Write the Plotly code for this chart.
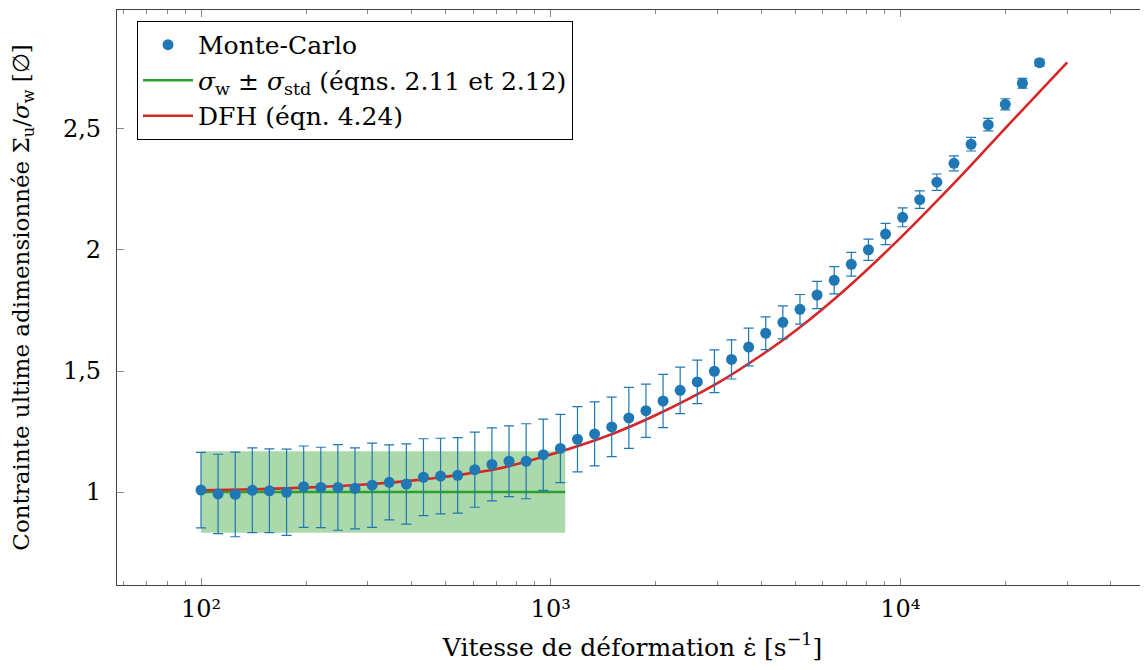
import plotly.graph_objects as go

# Monte-Carlo points (strain rate, normalised strength, std)
mc_rate = [100, 111.9, 125.3, 140.2, 156.9, 175.7, 196.6, 220.1, 246.3, 275.7,
           308.6, 345.4, 386.6, 432.7, 484.3, 542.1, 606.7, 679.1, 760.1, 850.8,
           952.3, 1065.9, 1193.0, 1335.3, 1494.6, 1672.9, 1872.4, 2095.8, 2345.7, 2625.6,
           2938.7, 3289.3, 3681.6, 4120.8, 4612.3, 5162.5, 5778.3, 6467.6, 7239.1, 8102.6,
           9069.2, 10149, 11360, 12715, 14232, 15929, 17830, 19956, 22337, 25000]
mc_sigma = [1.008, 0.992, 0.990, 1.007, 1.005, 0.999, 1.022, 1.019, 1.019, 1.015,
            1.028, 1.040, 1.033, 1.061, 1.066, 1.069, 1.092, 1.114, 1.127, 1.127,
            1.154, 1.180, 1.218, 1.240, 1.269, 1.306, 1.336, 1.376, 1.420, 1.455,
            1.499, 1.548, 1.599, 1.656, 1.701, 1.755, 1.814, 1.875, 1.941, 2.001,
            2.066, 2.135, 2.208, 2.280, 2.358, 2.437, 2.518, 2.602, 2.689, 2.774]
mc_std = [0.156, 0.164, 0.175, 0.175, 0.173, 0.178, 0.168, 0.166, 0.177, 0.167,
          0.174, 0.155, 0.166, 0.159, 0.156, 0.156, 0.155, 0.151, 0.146, 0.155,
          0.147, 0.141, 0.135, 0.132, 0.123, 0.126, 0.110, 0.110, 0.096, 0.090,
          0.088, 0.081, 0.078, 0.068, 0.068, 0.061, 0.056, 0.056, 0.049, 0.044,
          0.044, 0.039, 0.036, 0.034, 0.031, 0.028, 0.026, 0.023, 0.020, 0.014]

# Weibull mean +/- std band
weib_rate = [100, 1100]
sigma_w = 1.0
sigma_std = 0.168

# DFH model curve
dfh_rate = [100, 150, 200, 300, 400, 500, 700, 1000, 1500, 2000,
            3000, 4000, 5000, 7000, 10000, 15000, 20000, 30000]
dfh_sigma = [1.007, 1.012, 1.018, 1.032, 1.047, 1.063, 1.095, 1.155, 1.240, 1.318,
             1.450, 1.565, 1.665, 1.840, 2.050, 2.310, 2.505, 2.775]

y_ticks = [1, 1.5, 2, 2.5]
y_ticktext = ["1", "1,5", "2", "2,5"]
x_ticks = [100, 1000, 10000]
x_ticktext = ["10²", "10³", "10⁴"]

BLUE = "#1f77b4"
GREEN = "#2ca02c"
RED = "#d62728"
FONT = "DejaVu Serif"

fig = go.Figure()

# band
fig.add_trace(go.Scatter(x=weib_rate, y=[sigma_w - sigma_std] * 2, mode="lines",
                         line=dict(width=0), showlegend=False, hoverinfo="skip"))
fig.add_trace(go.Scatter(x=weib_rate, y=[sigma_w + sigma_std] * 2, mode="lines",
                         line=dict(width=0), fill="tonexty",
                         fillcolor="rgba(44,160,44,0.4)", showlegend=False, hoverinfo="skip"))

fig.add_trace(go.Scatter(x=weib_rate, y=[sigma_w] * 2, mode="lines",
                         line=dict(color=GREEN, width=2.6), legendrank=2,
                         name="<i>σ</i><sub>w</sub> ± <i>σ</i><sub>std</sub> (éqns. 2.11 et 2.12)"))
fig.add_trace(go.Scatter(x=dfh_rate, y=dfh_sigma, mode="lines",
                         line=dict(color=RED, width=2.6, shape="spline", smoothing=0.8), legendrank=3,
                         name="DFH (éqn. 4.24)"))
fig.add_trace(go.Scatter(x=mc_rate, y=mc_sigma, mode="markers",
                         marker=dict(color=BLUE, size=11),
                         error_y=dict(type="data", array=mc_std, color=BLUE, thickness=1.2, width=5),
                         legendrank=1, name="Monte-Carlo"))

axis_common = dict(showgrid=False, zeroline=False, showline=True, linecolor="#444",
                   linewidth=1.3, mirror="ticks", ticks="inside", tickcolor="#888",
                   automargin=False,
                   tickfont=dict(family=FONT, size=24, color="black"))

fig.update_xaxes(type="log", range=[1.7598, 4.7081], tickvals=x_ticks, ticktext=x_ticktext,
                 ticklen=7, ticklabelstandoff=2,
                 minor=dict(ticks="inside", ticklen=4, tickcolor="#888", dtick="D1", showgrid=False),
                 title=dict(text="Vitesse de déformation ε̇ [s<sup>−1</sup>]",
                            font=dict(family=FONT, size=25, color="black"), standoff=16),
                 **axis_common)
fig.update_yaxes(range=[0.6157, 2.9917], tickvals=y_ticks, ticktext=y_ticktext,
                 ticklen=7, ticklabelstandoff=10,
                 title=dict(text="Contrainte ultime adimensionnée Σ<sub>u</sub>/<i>σ</i><sub>w</sub> [∅]",
                            font=dict(family=FONT, size=23, color="black"), standoff=28),
                 **axis_common)

# page body has an 8px margin, so margins are shifted to land the plot where the reference has it
fig.update_layout(
    width=1148, height=654,
    margin=dict(l=109, r=8, t=2, b=77),
    plot_bgcolor="white", paper_bgcolor="white",
    font=dict(family=FONT, size=24, color="black"),
    legend=dict(x=0.0194, y=0.981, xanchor="left", yanchor="top", traceorder="normal",
                bgcolor="white", bordercolor="black", borderwidth=1, itemwidth=50,
                font=dict(family=FONT, size=25), tracegroupgap=0),
)

fig.write_html("out.html")
